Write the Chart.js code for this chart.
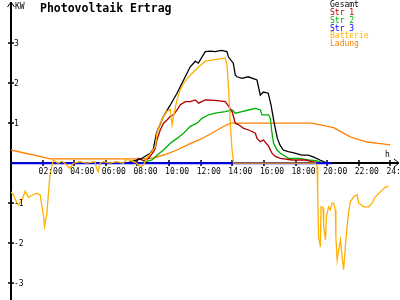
<!DOCTYPE html>
<html>
<head>
<meta charset="utf-8">
<script src="https://cdn.jsdelivr.net/npm/chart.js@4.4.1/dist/chart.umd.min.js"></script>
<style>
  html, body { margin: 0; padding: 0; background: #fff; }
  canvas { display: block; }
</style>
</head>
<body>
<canvas id="pv" width="400" height="300"></canvas>
<script>
// Photovoltaik Ertrag — day curve, hours 0..24, values in kW

const xTickHours = [2, 4, 6, 8, 10, 12, 14, 16, 18, 20, 22, 24];
const xTickLabels = ['02:00', '04:00', '06:00', '08:00', '10:00', '12:00', '14:00', '16:00', '18:00', '20:00', '22:00', '24:00'];
const yTickValues = [3, 2, 1, -1, -2, -3];
const yTickLabels = ['3', '2', '1', '-1', '-2', '-3'];

const gesamtH = [0, 7.33, 7.7, 8.18, 8.8, 9.0, 9.2, 9.63, 10.07, 10.5, 10.92, 11.34, 11.66, 11.85, 12.29, 12.6, 12.92, 13.3, 13.66, 13.75, 14.06, 14.19, 14.3, 14.61, 15.0, 15.56, 15.77, 15.96, 16.27, 16.45, 16.65, 16.85, 17.02, 17.22, 17.54, 17.96, 18.39, 18.8, 19.12, 19.54, 19.97, 20.3];
const gesamtKW = [0, 0, 0.05, 0.1, 0.25, 0.35, 0.75, 1.16, 1.45, 1.75, 2.08, 2.41, 2.55, 2.5, 2.79, 2.8, 2.79, 2.82, 2.79, 2.66, 2.5, 2.2, 2.16, 2.12, 2.16, 2.08, 1.7, 1.78, 1.75, 1.45, 1.0, 0.62, 0.45, 0.33, 0.29, 0.25, 0.2, 0.2, 0.16, 0.08, 0.01, 0];

const str1H = [0, 7.8, 8.07, 8.4, 8.7, 9.02, 9.13, 9.23, 9.44, 9.65, 9.87, 10.08, 10.28, 10.5, 10.71, 11.03, 11.34, 11.66, 11.87, 12.29, 12.92, 13.56, 13.77, 13.98, 14.19, 14.4, 14.72, 15.03, 15.46, 15.56, 15.77, 15.98, 16.3, 16.51, 16.72, 17.04, 17.78, 18.62, 19.04, 19.68];
const str1KW = [0, 0, 0.12, 0.06, 0.12, 0.29, 0.37, 0.58, 0.83, 1.0, 1.08, 1.17, 1.21, 1.33, 1.46, 1.54, 1.54, 1.58, 1.5, 1.58, 1.57, 1.54, 1.42, 1.29, 1.0, 0.96, 0.87, 0.83, 0.75, 0.62, 0.54, 0.58, 0.42, 0.25, 0.17, 0.12, 0.08, 0.08, 0.04, 0];

const str2H = [0, 8.18, 8.92, 9.23, 9.65, 10.08, 10.5, 10.92, 11.34, 11.77, 12.08, 12.5, 12.92, 13.56, 13.98, 14.19, 14.61, 15.03, 15.46, 15.77, 15.88, 16.3, 16.41, 16.51, 16.61, 16.83, 17.04, 17.56, 18.2, 18.83, 19.36, 19.78];
const str2KW = [0, 0, 0.08, 0.2, 0.33, 0.5, 0.62, 0.75, 0.92, 1.0, 1.12, 1.21, 1.25, 1.29, 1.33, 1.25, 1.29, 1.33, 1.37, 1.33, 1.21, 1.21, 1.12, 0.75, 0.5, 0.33, 0.25, 0.12, 0.12, 0.08, 0.06, 0];

const str3H = [0, 20.3];
const str3KW = [0, 0];

const batterieH = [0, 0.16, 0.37, 0.47, 0.69, 0.9, 1.11, 1.32, 1.64, 1.85, 1.96, 2.06, 2.12, 2.27, 2.37, 2.48, 2.68, 2.99, 3.21, 3.42, 3.73, 3.94, 4.36, 4.79, 5.31, 5.42, 5.52, 5.63, 5.84, 6.26, 6.69, 7.1, 7.32, 7.74, 7.95, 8.16, 8.37, 8.58, 8.81, 9.13, 9.23, 9.44, 9.65, 9.87, 10.08, 10.19, 10.28, 10.5, 10.71, 10.92, 11.34, 11.66, 11.85, 12.29, 12.92, 13.55, 13.66, 13.77, 13.87, 13.98, 14.08, 19.25, 19.36, 19.4, 19.46, 19.57, 19.61, 19.74, 19.78, 19.89, 19.95, 20.09, 20.2, 20.31, 20.41, 20.52, 20.55, 20.63, 20.73, 20.84, 20.94, 21.04, 21.15, 21.26, 21.36, 21.47, 21.68, 21.89, 22.0, 22.31, 22.63, 22.84, 23.05, 23.37, 23.68, 23.89];
const batterieKW = [-0.72, -0.79, -0.99, -1.04, -0.92, -0.7, -0.86, -0.8, -0.75, -0.8, -1.08, -1.33, -1.58, -1.25, -0.75, -0.25, 0.08, 0, 0.05, 0, -0.13, 0, 0.04, 0, 0.04, -0.13, -0.21, 0, 0.04, 0, 0.04, 0, 0.1, 0.04, 0, -0.09, -0.05, 0.12, 0.24, 0.41, 0.75, 1.0, 1.17, 1.3, 1.34, 0.96, 1.17, 1.59, 1.84, 2.0, 2.2, 2.33, 2.4, 2.55, 2.59, 2.63, 2.46, 1.84, 1.0, 0.34, 0, 0, -0.08, -0.75, -1.84, -2.09, -1.09, -1.12, -1.59, -1.92, -1.34, -1.09, -1.17, -1.0, -1.0, -1.17, -1.84, -2.42, -2.17, -1.92, -2.34, -2.66, -2.09, -1.59, -1.21, -0.96, -0.84, -0.79, -1.0, -1.09, -1.09, -1.0, -0.84, -0.71, -0.6, -0.58];

const ladungH = [0, 2.5, 8.2, 9.0, 9.8, 10.5, 11.4, 12.0, 12.7, 13.5, 13.87, 19.04, 20.4, 21.47, 22.52, 23.37, 24];
const ladungKW = [0.33, 0.11, 0.11, 0.13, 0.22, 0.33, 0.5, 0.6, 0.75, 0.93, 1.0, 1.0, 0.89, 0.66, 0.53, 0.49, 0.46];

const seriesNames = ['Gesamt', 'Str 1', 'Str 2', 'Str 3', 'Batterie', 'Ladung'];
const seriesColors = ['#000000', '#b00000', '#00b000', '#0000ff', '#ffb000', '#ff8000'];

const toPoints = (hs, vs) => hs.map((h, i) => ({ x: h, y: vs[i] }));

const MONO = '"DejaVu Sans Mono", "Liberation Mono", monospace';

const axesPlugin = {
  id: 'pvAxes',
  beforeDatasetsDraw(chart) {
    const { ctx, scales: { x, y } } = chart;
    const x0 = Math.round(x.getPixelForValue(0));
    const y0 = Math.round(y.getPixelForValue(0));
    ctx.save();
    ctx.strokeStyle = '#000';
    ctx.lineWidth = 2;
    ctx.beginPath();
    ctx.moveTo(x0, 300); ctx.lineTo(x0, 2);
    ctx.moveTo(x0, y0); ctx.lineTo(399, y0);
    ctx.stroke();

    ctx.lineWidth = 1;
    ctx.beginPath();
    ctx.moveTo(x0 - 3.5, 7); ctx.lineTo(x0, 2); ctx.lineTo(x0 + 3.5, 7);
    ctx.moveTo(394, y0 - 4); ctx.lineTo(399, y0); ctx.lineTo(394, y0 + 4);
    ctx.stroke();

    ctx.lineWidth = 1.5;
    ctx.beginPath();
    xTickHours.forEach(h => {
      const px = Math.round(x.getPixelForValue(h));
      ctx.moveTo(px, y0 - 3); ctx.lineTo(px, y0 + 3);
    });
    yTickValues.forEach(v => {
      const py = Math.round(y.getPixelForValue(v));
      ctx.moveTo(x0 - 3, py); ctx.lineTo(x0 + 3, py);
    });
    ctx.stroke();
    ctx.restore();
  },
  afterDraw(chart) {
    const { ctx, scales: { x, y } } = chart;
    const y0 = y.getPixelForValue(0);
    ctx.save();
    ctx.fillStyle = '#000';
    ctx.textBaseline = 'alphabetic';
    ctx.textAlign = 'left';

    ctx.font = 'bold 11.5px ' + MONO;
    ctx.fillText('Photovoltaik Ertrag', 40, 11.7);

    ctx.font = '8px ' + MONO;
    ctx.fillText('KW', 15, 8.5);
    ctx.fillText('h', 385, 157);

    xTickHours.forEach((h, i) => {
      ctx.fillText(xTickLabels[i], x.getPixelForValue(h) - 4, y0 + 11);
    });
    yTickValues.forEach((v, i) => {
      ctx.fillText(yTickLabels[i], 14, y.getPixelForValue(v) + 3);
    });

    seriesNames.forEach((name, i) => {
      ctx.fillStyle = seriesColors[i];
      ctx.fillText(name, 330, 7 + i * 7.85);
    });
    ctx.restore();
  }
};

const lineSet = (i, hs, vs, order, width) => ({
  label: seriesNames[i],
  data: toPoints(hs, vs),
  borderColor: seriesColors[i],
  borderWidth: width || 1.3,
  pointRadius: 0,
  tension: 0,
  fill: false,
  order: order
});

new Chart(document.getElementById('pv'), {
  type: 'line',
  data: {
    datasets: [
      lineSet(0, gesamtH, gesamtKW, 2),
      lineSet(1, str1H, str1KW, 3),
      lineSet(2, str2H, str2KW, 4),
      lineSet(3, str3H, str3KW, 1, 2),
      lineSet(4, batterieH, batterieKW, 0),
      lineSet(5, ladungH, ladungKW, 5)
    ]
  },
  options: {
    responsive: false,
    animation: false,
    layout: { padding: { left: 11, right: 9.6, top: 0, bottom: 0 } },
    plugins: { legend: { display: false }, tooltip: { enabled: false }, title: { display: false } },
    scales: {
      x: { type: 'linear', min: 0, max: 24, display: false },
      y: { type: 'linear', min: -3.42, max: 4.08, display: false }
    }
  },
  plugins: [axesPlugin]
});
</script>
</body>
</html>
